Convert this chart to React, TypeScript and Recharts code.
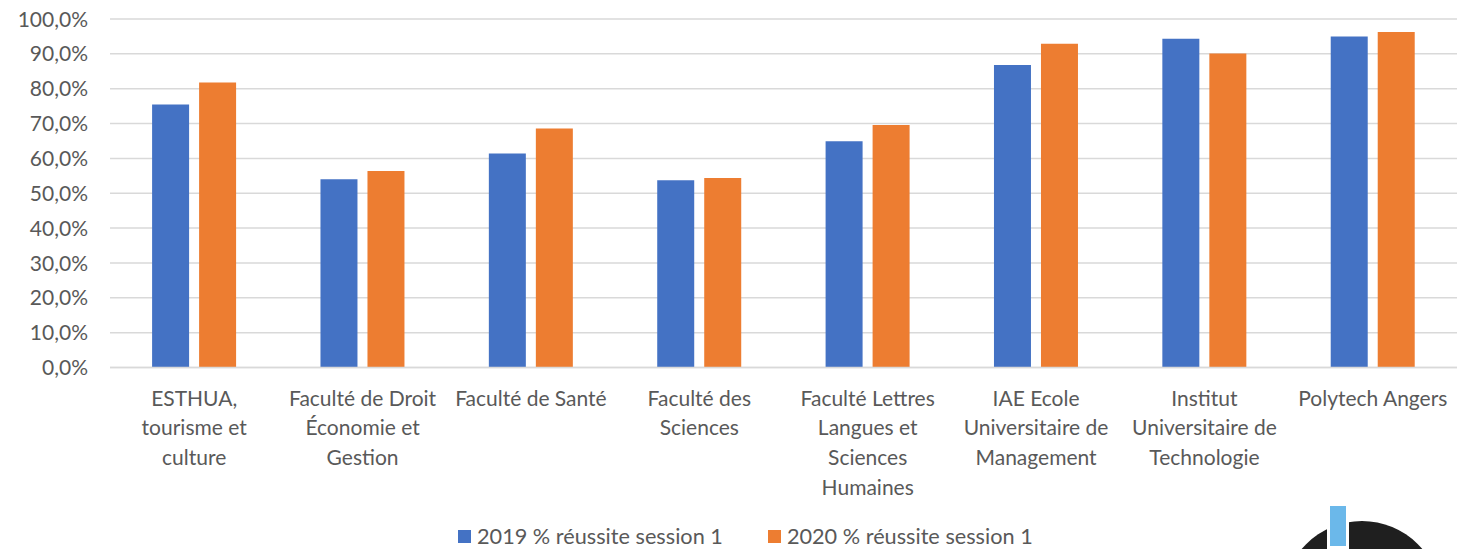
import React from 'react';
import { BarChart, Bar, XAxis, YAxis, CartesianGrid, Legend } from 'recharts';

const categories = [
  'ESTHUA, tourisme et culture',
  'Faculté de Droit Économie et Gestion',
  'Faculté de Santé',
  'Faculté des Sciences',
  'Faculté Lettres Langues et Sciences Humaines',
  'IAE Ecole Universitaire de Management',
  'Institut Universitaire de Technologie',
  'Polytech Angers',
];

const labelLines = [
  ['ESTHUA,', 'tourisme et', 'culture'],
  ['Faculté de Droit', 'Économie et', 'Gestion'],
  ['Faculté de Santé'],
  ['Faculté des', 'Sciences'],
  ['Faculté Lettres', 'Langues et', 'Sciences', 'Humaines'],
  ['IAE Ecole', 'Universitaire de', 'Management'],
  ['Institut', 'Universitaire de', 'Technologie'],
  ['Polytech Angers'],
];

const values2019 = [75.5, 54.0, 61.4, 53.7, 64.9, 86.8, 94.3, 95.0];
const values2020 = [81.8, 56.4, 68.6, 54.4, 69.6, 92.9, 90.1, 96.3];

const yTicks = [0, 10, 20, 30, 40, 50, 60, 70, 80, 90, 100];

const series = [
  { key: 's2019', name: '2019 % réussite session 1', color: '#4472C4' },
  { key: 's2020', name: '2020 % réussite session 1', color: '#ED7D31' },
];

const data = categories.map((c, i) => ({
  name: c,
  s2019: values2019[i],
  s2020: values2020[i],
}));

const FONT = 'Lato, "Open Sans", sans-serif';
const TEXT = '#595959';
const GRID = '#d9d9d9';

const fmt = (v: number) => `${v.toFixed(1).replace('.', ',')}%`;

const XTick = (props: any) => {
  const { x, y, payload } = props;
  const lines = labelLines[payload.index] || [payload.value];
  return (
    <text x={x} y={y + 30} textAnchor="middle" fill={TEXT} fontSize={21} fontFamily={FONT}>
      {lines.map((l: string, i: number) => (
        <tspan key={i} x={x} dy={i === 0 ? 0 : 29.7}>
          {l}
        </tspan>
      ))}
    </text>
  );
};

const YTick = (props: any) => {
  const { x, y, payload } = props;
  return (
    <text x={x} y={y} dy="0.36em" textAnchor="end" fill={TEXT} fontSize={21} fontFamily={FONT}>
      {fmt(payload.value)}
    </text>
  );
};

const LegendContent = () => (
  <div
    style={{
      display: 'flex',
      alignItems: 'center',
      fontFamily: FONT,
      fontSize: 21.7,
      lineHeight: '22px',
      color: TEXT,
      whiteSpace: 'nowrap',
    }}
  >
    {series.map((s, i) => (
      <div key={s.key} style={{ display: 'flex', alignItems: 'center', marginLeft: i === 0 ? 0 : 45 }}>
        <div style={{ width: 13, height: 13, background: s.color, marginRight: 6 }} />
        <span>{s.name}</span>
      </div>
    ))}
  </div>
);

export default function App() {
  return (
    <div style={{ position: 'absolute', left: 0, top: 0, width: 1470, height: 549, background: '#fff', overflow: 'hidden' }}>
      <BarChart
        width={1470}
        height={549}
        data={data}
        margin={{ top: 19, right: 13, left: 0, bottom: 0 }}
        barCategoryGap="25%"
        barGap={10}
      >
        <CartesianGrid vertical={false} stroke={GRID} strokeWidth={1.5} />
        <XAxis
          dataKey="name"
          height={181.5}
          interval={0}
          tickLine={false}
          axisLine={{ stroke: GRID, strokeWidth: 1.5 }}
          tick={<XTick />}
        />
        <YAxis
          width={110}
          domain={[0, 100]}
          ticks={yTicks}
          interval={0}
          tickLine={false}
          axisLine={false}
          tickSize={0}
          tickMargin={22}
          tick={<YTick />}
        />
        <Legend
          layout="horizontal"
          verticalAlign="middle"
          align="center"
          content={<LegendContent />}
          wrapperStyle={{ position: 'absolute', top: 525, left: 458, width: 640, height: 22 }}
        />
        {series.map((s) => (
          <Bar key={s.key} dataKey={s.key} name={s.name} fill={s.color} isAnimationActive={false} />
        ))}
      </BarChart>
      <svg width={1470} height={549} style={{ position: 'absolute', left: 0, top: 0, pointerEvents: 'none' }}>
        <circle cx={1362} cy={600} r={79} fill="#1f1f1f" />
        <rect x={1327} y={515} width={22} height={40} fill="#ffffff" />
        <rect x={1330} y={506} width={16} height={40} fill="#6bb8ea" />
      </svg>
    </div>
  );
}
